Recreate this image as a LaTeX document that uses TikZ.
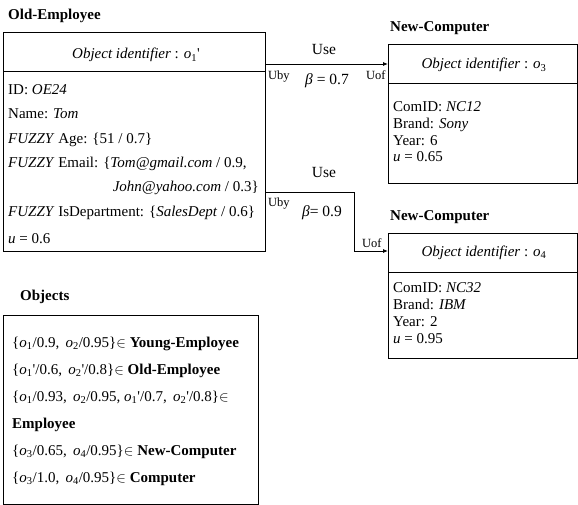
\documentclass[tikz,border=0pt]{standalone}
\usepackage{fontspec}
\setmainfont{Liberation Serif}
\usetikzlibrary{arrows.meta}
\tikzset{
  box/.style={draw, line width=0.8pt, inner sep=0pt, anchor=north west},
  rule/.style={line width=1pt},
  txt/.style={anchor=base west, inner sep=0pt, font=\fontsize{15}{17}\selectfont},
  ttl/.style={anchor=base west, inner sep=0pt, font=\fontsize{15}{17}\selectfont\bfseries},
  hdr/.style={anchor=base, inner sep=0pt, font=\fontsize{15}{17}\selectfont},
  lbl/.style={anchor=base west, inner sep=0pt, font=\fontsize{12.5}{14}\selectfont},
  mid/.style={anchor=base, inner sep=0pt, font=\fontsize{15.5}{17}\selectfont},
  conn/.style={line width=0.8pt},
  arr/.style={conn, -{Latex[length=5pt,width=4pt]}}
}
\newcommand{\ob}[1]{\textit{o}\textsubscript{#1}}
\newcommand{\pr}{\textquotesingle}
\begin{document}
\begin{tikzpicture}[x=1pt,y=-1pt]
\useasboundingbox (0,0) rectangle (578,505);
% Old-Employee
\node[ttl] (t1) at (8,20) {Old-Employee};
\node[box, minimum width=262pt, minimum height=219pt] (oe) at (3,32) {};
\coordinate (oediv) at (3,72);
\draw[rule] (oediv) -- (oediv -| oe.east);
\node[hdr] (oeh) at (136,59) {\textit{Object identifier} : \ob{1}\pr};
\node[txt] (a1) at (8,95) {ID: \textit{OE24}};
\node[txt] (a2) at (8,119) {Name: \textit{Tom}};
\node[txt] (a3) at (8,144) {\textit{FUZZY} Age: \{51 / 0.7\}};
\node[txt] (a4) at (8,168) {\textit{FUZZY} Email: \{\textit{Tom@gmail.com} / 0.9,};
\node[txt, anchor=base east] (a5) at (259,192) {\textit{John@yahoo.com} / 0.3\}};
\node[txt] (a6) at (8,216) {\textit{FUZZY} IsDepartment: \{\textit{SalesDept} / 0.6\}};
\node[txt] (a7) at (8,243) {\textit{u} = 0.6};
% New-Computer 1
\node[ttl] (t2) at (390,32) {New-Computer};
\node[box, minimum width=189pt, minimum height=139pt] (nc1) at (388,44) {};
\draw[rule] (388,84) -- (577,84);
\node[hdr] (nc1h) at (484,69) {\textit{Object identifier} : \ob{3}};
\node[txt] (b1) at (393,112) {ComID: \textit{NC12}};
\node[txt] (b2) at (393,129) {Brand: \textit{Sony}};
\node[txt] (b3) at (393,146) {Year: 6};
\node[txt] (b4) at (393,162) {\textit{u} = 0.65};
% New-Computer 2
\node[ttl] (t3) at (390,220) {New-Computer};
\node[box, minimum width=189pt, minimum height=125pt] (nc2) at (388,233) {};
\draw[rule] (388,272) -- (577,272);
\node[hdr] (nc2h) at (484,256) {\textit{Object identifier} : \ob{4}};
\node[txt] (c1) at (393,292) {ComID: \textit{NC32}};
\node[txt] (c2) at (393,309) {Brand: \textit{IBM}};
\node[txt] (c3) at (393,326) {Year: 2};
\node[txt] (c4) at (393,343) {\textit{u} = 0.95};
% Objects
\node[ttl] (t4) at (20,300) {Objects};
\node[box, minimum width=255pt, minimum height=189pt] (obj) at (3,315) {};
\node[txt] (d1) at (12,347) {\{\ob{1}/0.9,\, \ob{2}/0.95\}$\in$ \textbf{Young-Employee}};
\node[txt] (d2) at (12,374) {\{\ob{1}\pr/0.6,\, \ob{2}\pr/0.8\}$\in$ \textbf{Old-Employee}};
\node[txt] (d3) at (12,401) {\{\ob{1}/0.93,\, \ob{2}/0.95, \ob{1}\pr/0.7,\, \ob{2}\pr/0.8\}$\in$};
\node[txt] (d4) at (12,428) {\textbf{Employee}};
\node[txt] (d5) at (12,455) {\{\ob{3}/0.65,\, \ob{4}/0.95\}$\in$ \textbf{New-Computer}};
\node[txt] (d6) at (12,482) {\{\ob{3}/1.0,\, \ob{4}/0.95\}$\in$ \textbf{Computer}};
% Connectors
\coordinate (s1) at (265,64);
\coordinate (e1) at (388,64);
\draw[arr] (s1) -- (e1);
\coordinate (s2) at (265,192);
\coordinate (k2) at (354,192);
\coordinate (e2) at (388,251);
\draw[arr] (s2) -- (k2) |- (e2);
\node[mid] (u1) at (324,55) {Use};
\node[lbl] (ub1) at (268,80) {Uby};
\node[mid] (be1) at (327,85) {\textit{β} = 0.7};
\node[lbl] (uo1) at (366,80) {Uof};
\node[mid] (u2) at (324,178) {Use};
\node[lbl] (ub2) at (268,207) {Uby};
\node[mid] (be2) at (322,217) {\textit{β}= 0.9};
\node[lbl] (uo2) at (362,247) {Uof};
\end{tikzpicture}
\end{document}
